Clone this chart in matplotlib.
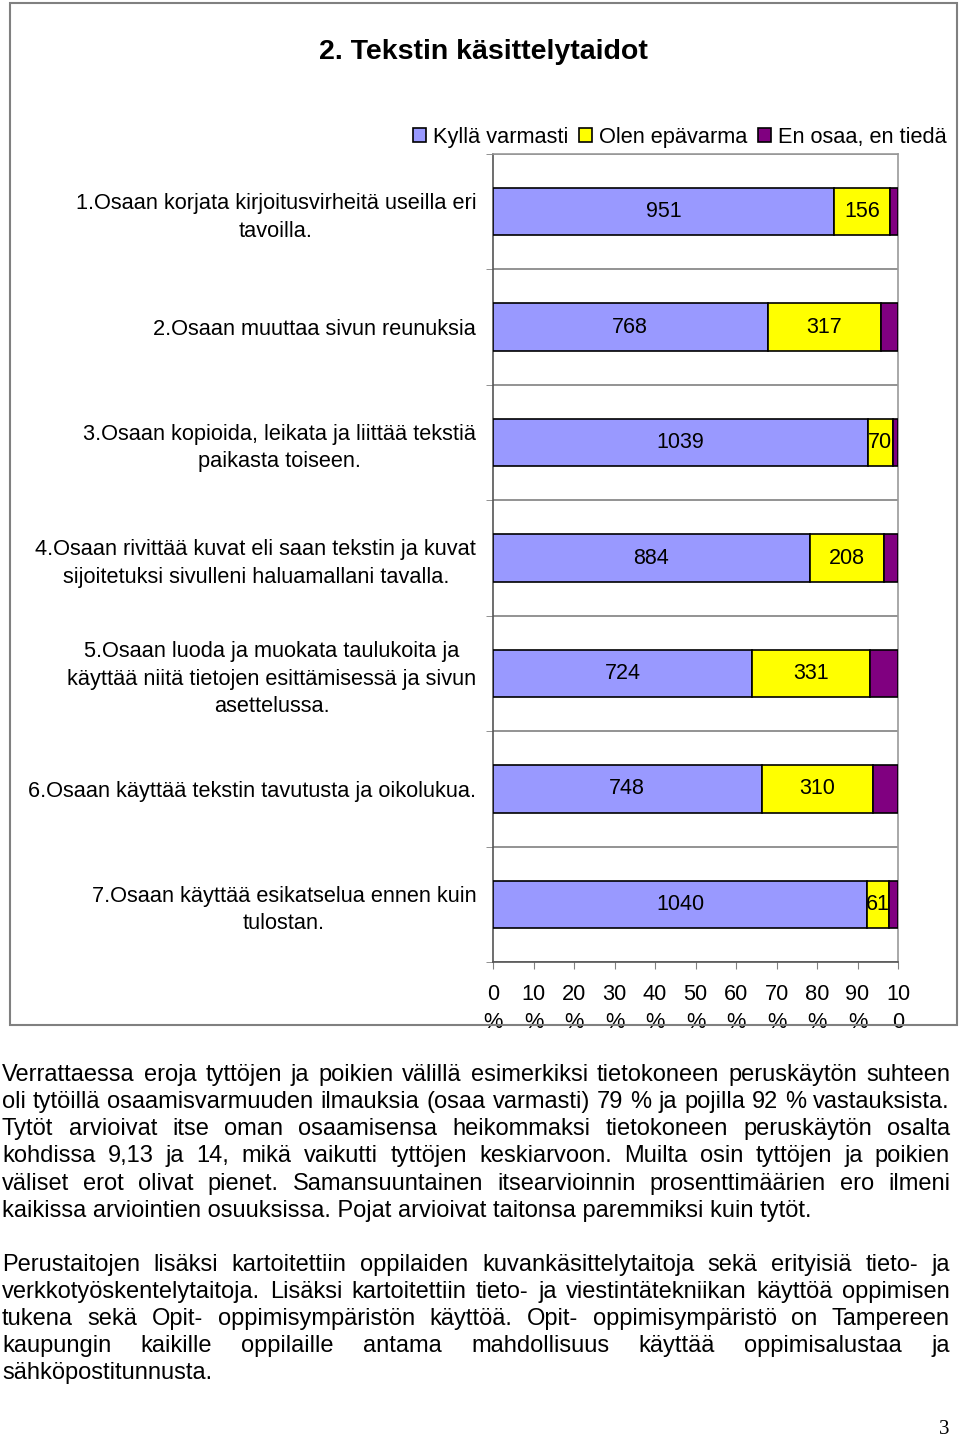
import numpy as np
import matplotlib
matplotlib.use("Agg")
import matplotlib.pyplot as plt
from matplotlib.patches import Rectangle, Patch

plt.rcParams['font.family'] = ['Liberation Sans', 'DejaVu Sans']

# data
categories = [
    "1.Osaan korjata kirjoitusvirheitä useilla eri\ntavoilla.",
    "2.Osaan muuttaa sivun reunuksia",
    "3.Osaan kopioida, leikata ja liittää tekstiä\npaikasta toiseen.",
    "4.Osaan rivittää kuvat eli saan tekstin ja kuvat\nsijoitetuksi sivulleni haluamallani tavalla.",
    "5.Osaan luoda ja muokata taulukoita ja\nkäyttää niitä tietojen esittämisessä ja sivun\nasettelussa.",
    "6.Osaan käyttää tekstin tavutusta ja oikolukua.",
    "7.Osaan käyttää esikatselua ennen kuin\ntulostan.",
]
kylla = [951, 768, 1039, 884, 724, 748, 1040]
epavarma = [156, 317, 70, 208, 331, 310, 61]
en_osaa = [23, 48, 14, 38, 78, 70, 25]  # not labelled, estimated
series_names = ["Kyllä varmasti", "Olen epävarma", "En osaa, en tiedä"]
colors = ["#9999FF", "#FFFF00", "#800080"]
xtick_labels = ["0\n%", "10\n%", "20\n%", "30\n%", "40\n%", "50\n%",
                "60\n%", "70\n%", "80\n%", "90\n%", "10\n0"]

title = "2. Tekstin käsittelytaidot"
paragraphs = [
    ["Verrattaessa eroja tyttöjen ja poikien välillä esimerkiksi tietokoneen peruskäytön suhteen",
     "oli tytöillä osaamisvarmuuden ilmauksia (osaa varmasti) 79 % ja pojilla 92 % vastauksista.",
     "Tytöt arvioivat itse oman osaamisensa heikommaksi tietokoneen peruskäytön osalta",
     "kohdissa 9,13 ja 14, mikä vaikutti tyttöjen keskiarvoon. Muilta osin tyttöjen ja poikien",
     "väliset erot olivat pienet. Samansuuntainen itsearvioinnin prosenttimäärien ero ilmeni",
     "kaikissa arviointien osuuksissa. Pojat arvioivat taitonsa paremmiksi kuin tytöt."],
    ["Perustaitojen lisäksi kartoitettiin oppilaiden kuvankäsittelytaitoja sekä erityisiä tieto- ja",
     "verkkotyöskentelytaitoja. Lisäksi kartoitettiin tieto- ja viestintätekniikan käyttöä oppimisen",
     "tukena sekä Opit- oppimisympäristön käyttöä. Opit- oppimisympäristö on Tampereen",
     "kaupungin kaikille oppilaille antama mahdollisuus käyttää oppimisalustaa ja",
     "sähköpostitunnusta."],
]

W, H = 960, 1440
fig = plt.figure(figsize=(W / 100, H / 100), dpi=100)

def fx(px):
    return px / W

def fy(py):
    return 1 - py / H

chart_fs = 15.7

# chart frame
fig.patches.append(Rectangle((fx(10), fy(1025)), fx(957) - fx(10), fy(3) - fy(1025),
                             transform=fig.transFigure, fill=False,
                             edgecolor="#808080", linewidth=1.5))

ax = fig.add_axes([fx(493), fy(962), fx(898) - fx(493), fy(154) - fy(962)])

vals = np.array([kylla, epavarma, en_osaa], dtype=float)
pct = vals / vals.sum(axis=0) * 100
y = np.arange(len(categories))
left = np.zeros(len(categories))
for i in range(3):
    bars = ax.barh(y, pct[i], left=left, height=0.41, color=colors[i],
                   edgecolor="black", linewidth=1.2, zorder=3)
    if i < 2:
        for b, v in zip(bars, vals[i]):
            ax.text(b.get_x() + b.get_width() / 2, b.get_y() + b.get_height() / 2,
                    str(int(v)), ha="center", va="center", fontsize=15.5, zorder=4)
    left += pct[i]

ax.set_xlim(0, 100)
ax.set_ylim(len(categories) - 0.5, -0.5)
ax.set_xticks(np.arange(0, 101, 10))
ax.set_xticklabels(xtick_labels, fontsize=chart_fs, linespacing=1.45)
ax.set_yticks(y)
ax.set_yticklabels(categories, fontsize=chart_fs, ha="right", multialignment="center",
                   linespacing=1.4)
ax.set_yticks(np.arange(-0.5, len(categories), 1), minor=True)
ax.tick_params(axis="y", which="major", length=0, pad=12)
ax.tick_params(axis="y", which="minor", length=5, color="#808080")
ax.tick_params(axis="x", length=5, color="#808080", pad=11)
ax.grid(True, axis="y", which="minor", color="#808080", linewidth=1.2, zorder=0)
for s in ["left", "bottom"]:
    ax.spines[s].set_color("#555555")
    ax.spines[s].set_linewidth(1.2)
for s in ["top", "right"]:
    ax.spines[s].set_color("#999999")
    ax.spines[s].set_linewidth(1.2)

fig.text(fx(483), fy(52), title, ha="center", va="center", fontsize=20.5,
         fontweight="bold")

handles = [Patch(facecolor=c, edgecolor="black", linewidth=1.2) for c in colors]
fig.legend(handles, series_names, loc="center right",
           bbox_to_anchor=(fx(955), fy(137)), ncol=3, frameon=False, fontsize=chart_fs,
           handlelength=0.6, handleheight=0.6, handletextpad=0.3,
           columnspacing=0.5, borderaxespad=0)

# justified body text
fig.canvas.draw()
renderer = fig.canvas.get_renderer()
body_fs = 17

def text_width(s):
    t = fig.text(0, 0, s, fontsize=body_fs)
    w = t.get_window_extent(renderer).width
    t.remove()
    return w

x0, x1 = 2, 950
line_y = [[1075, 1102, 1129, 1156, 1184, 1211], [1265, 1292, 1319, 1346, 1373]]
for para, ys in zip(paragraphs, line_y):
    for k, (line, py) in enumerate(zip(para, ys)):
        if k == len(para) - 1:
            fig.text(fx(x0), fy(py), line, fontsize=body_fs, ha="left", va="center")
            continue
        words = line.split(" ")
        widths = [text_width(w) for w in words]
        gap = (x1 - x0 - sum(widths)) / (len(words) - 1)
        xp = x0
        for w, ww in zip(words, widths):
            fig.text(fx(xp), fy(py), w, fontsize=body_fs, ha="left", va="center")
            xp += ww + gap

fig.text(fx(949), fy(1430), "3", fontsize=15, ha="right", va="center",
         family=["Liberation Serif", "DejaVu Serif"])

fig.savefig("out.png", dpi=100)
